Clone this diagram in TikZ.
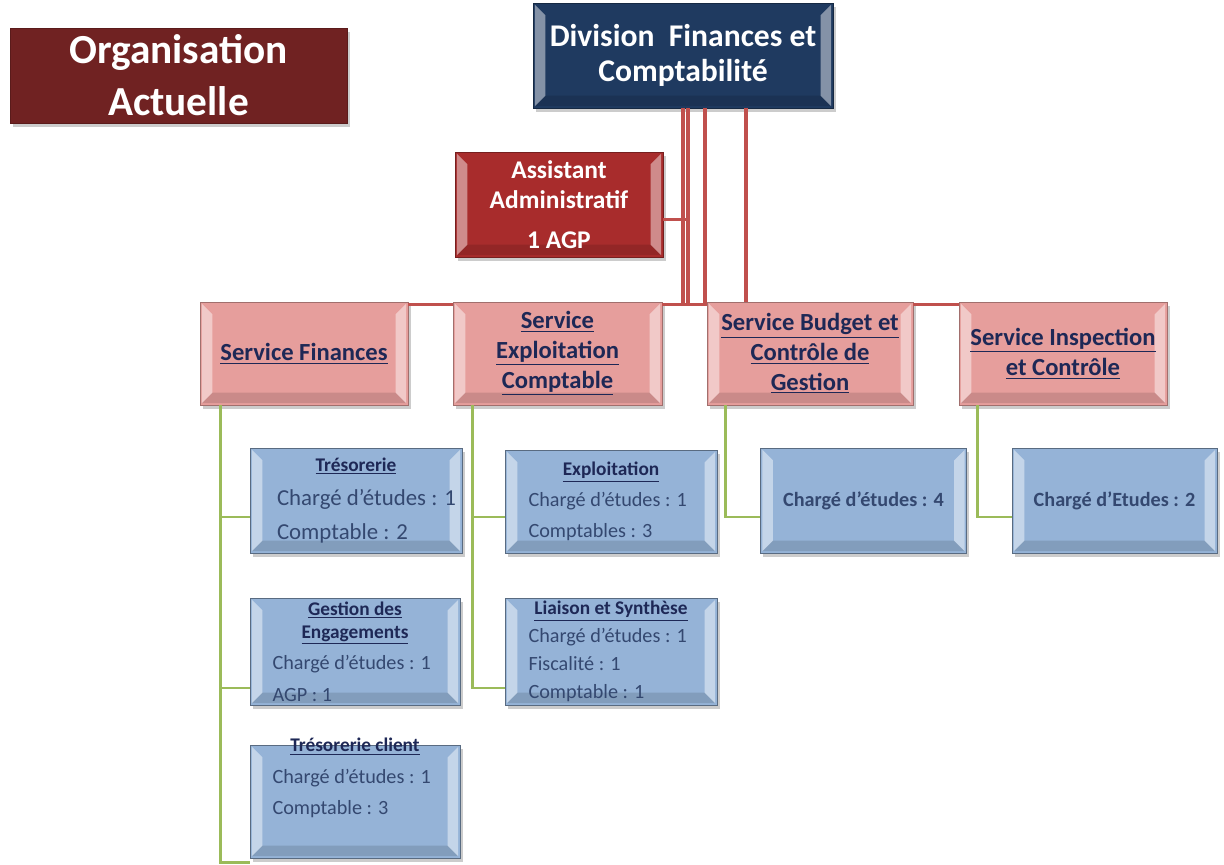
\documentclass[tikz,border=0pt]{standalone}
\usepackage{fontspec}
\setmainfont{Carlito}
\usepackage{tikz}
\usetikzlibrary{shadows}
\definecolor{titrerouge}{RGB}{112,34,34}
\definecolor{divbleu}{RGB}{31,58,96}
\definecolor{assrouge}{RGB}{168,44,44}
\definecolor{servrose}{RGB}{230,158,156}
\definecolor{cellbleu}{RGB}{149,179,215}
\definecolor{texbleu}{RGB}{52,72,112}
\definecolor{encre}{RGB}{30,40,86}
\definecolor{lienrouge}{RGB}{192,80,77}
\definecolor{lienvert}{RGB}{155,187,89}
\newcommand{\hd}[1]{{\centering\fontsize{11}{13}\selectfont\bfseries\color{encre}\underline{#1}\par}}

\begin{document}
\begin{tikzpicture}[x=0.02cm,y=-0.02cm]
\tikzstyle{bevel}=[path picture={
 \fill[white,opacity=.45] ([shift={(1pt,-1pt)}]path picture bounding box.north west) -- ([shift={(7pt,-7pt)}]path picture bounding box.north west) -- ([shift={(7pt,7pt)}]path picture bounding box.south west) -- ([shift={(1pt,1pt)}]path picture bounding box.south west) -- cycle;
 \fill[white,opacity=.45] ([shift={(-1pt,-1pt)}]path picture bounding box.north east) -- ([shift={(-7pt,-7pt)}]path picture bounding box.north east) -- ([shift={(-7pt,7pt)}]path picture bounding box.south east) -- ([shift={(-1pt,1pt)}]path picture bounding box.south east) -- cycle;
 \fill[black,opacity=.12] ([shift={(1pt,1pt)}]path picture bounding box.south west) -- ([shift={(7pt,7pt)}]path picture bounding box.south west) -- ([shift={(-7pt,7pt)}]path picture bounding box.south east) -- ([shift={(-1pt,1pt)}]path picture bounding box.south east) -- cycle;
}]
\tikzstyle{ombre}=[rectangle,drop shadow={shadow xshift=1.5pt,shadow yshift=-2.5pt,opacity=.4}]
\tikzstyle{boite}=[ombre,bevel,inner sep=2pt]
\tikzstyle{titrebox}=[ombre,fill=titrerouge,draw=titrerouge!80!black,text=white,font=\fontsize{23.5}{29.5}\selectfont\bfseries,align=center]
\tikzstyle{divbox}=[boite,fill=divbleu,draw=divbleu!70!black,text=white,font=\fontsize{18}{20}\selectfont\bfseries,align=center]
\tikzstyle{assbox}=[boite,fill=assrouge,draw=assrouge!70!black,text=white,font=\fontsize{14.5}{17}\selectfont\bfseries,align=center]
\tikzstyle{serv}=[boite,fill=servrose,draw=servrose!70!black,text=encre,font=\fontsize{14}{17}\selectfont\bfseries,align=center,minimum height=2.06cm]
\tikzstyle{cellbase}=[boite,fill=cellbleu,draw=cellbleu!60!black,text=texbleu]
\tikzstyle{cell}=[cellbase,text width=3.3cm,inner xsep=0.45cm,inner ysep=1pt,align=flush left,font=\fontsize{11.5}{18}\selectfont]
\tikzstyle{cellc}=[cellbase,align=center,font=\fontsize{11.5}{14}\selectfont\bfseries,minimum width=4.12cm,minimum height=2.1cm]
\tikzstyle{rouge}=[draw=lienrouge,line width=1.8pt]
\tikzstyle{vert}=[draw=lienvert,line width=1.6pt]

\useasboundingbox (0,0) rectangle (1224,865);

\node[titrebox,minimum width=6.74cm,minimum height=1.9cm] (titre) at (178.5,75.5) {Organisation\\Actuelle};
\node[divbox,minimum width=6cm,minimum height=2.1cm] (div) at (683,55.5) {Division~ Finances et\\Comptabilité};
\node[assbox,minimum width=4.16cm,minimum height=2.1cm] (asst) at (559,204.5) {Assistant\\Administratif\\[6pt]1 AGP};

\node[serv,minimum width=4.16cm] (sf) at (304,353.5) {\underline{Service Finances}};
\node[serv,minimum width=4.18cm] (sec) at (557.5,353.5) {\underline{Service}\\\underline{Exploitation}\\\underline{Comptable}};
\node[serv,minimum width=4.12cm] (sbc) at (810,353.5) {\underline{Service Budget et}\\\underline{Contrôle de}\\\underline{Gestion}};
\node[serv,minimum width=4.16cm] (sic) at (1063,353.5) {\underline{Service Inspection}\\\underline{et Contrôle}};

\node[cell,minimum width=4.24cm,minimum height=2.1cm,text width=3.64cm,inner xsep=0.3cm,font=\fontsize{13}{19.5}\selectfont] (tres) at (356,500.5) {\hd{Trésorerie}\mbox{\hspace{0.24cm}Chargé d’études : 1}\\\mbox{\hspace{0.24cm}Comptable : 2}};
\node[cell,minimum width=4.2cm,minimum height=2.14cm] (ge) at (355,651.5) {\hd{Gestion des}\hd{Engagements}Chargé d’études : 1\\AGP : 1};
\node[cell,minimum width=4.2cm,minimum height=2.26cm,text height=2pt,text depth=59pt] (tc) at (355,801.5) {\hd{Trésorerie client}Chargé d’études : 1\\Comptable : 3};
\node[cell,minimum width=4.24cm,minimum height=2.06cm,font=\fontsize{11.5}{17.5}\selectfont] (expl) at (611,501.5) {\hd{Exploitation}Chargé d’études : 1\\Comptables : 3};
\node[cell,minimum width=4.24cm,minimum height=2.14cm,font=\fontsize{11.5}{16}\selectfont] (ls) at (611,651.5) {\hd{Liaison et Synthèse}Chargé d’études : 1\\Fiscalité : 1\\Comptable : 1};
\node[cellc] (cb) at (863.5,500.5) {Chargé d’études : 4};
\node[cellc,minimum width=4.1cm] (ci) at (1114.5,500.5) {Chargé d’Etudes : 2};

\coordinate (bus) at (683,305);
\draw[rouge] ([yshift=-0.06cm]sf.north east) -- ([yshift=-0.06cm]sec.north west);
\draw[rouge] ([yshift=-0.06cm]sec.north east) -- ([yshift=-0.06cm]sbc.north west);
\draw[rouge] ([yshift=-0.06cm]sbc.north east) -- ([yshift=-0.06cm]sic.north west);
\draw[rouge] (div.south) -- (div.south |- bus);
\draw[rouge] ([yshift=-0.3cm]asst.east) -| ([xshift=0.1cm]div.south);
\draw[rouge] ([xshift=0.1cm]div.south) -- ([xshift=0.1cm]div.south |- bus);
\draw[rouge] ([xshift=0.44cm]div.south) -- ([xshift=0.44cm]div.south |- bus);
\draw[rouge] ([xshift=1.26cm]div.south) -- ([xshift=1.26cm]div.south |- sbc.north);

\draw[vert] ([xshift=0.42cm]sf.south west) |- ([yshift=-0.33cm]tres.west);
\draw[vert] ([xshift=0.42cm]sf.south west) |- ([yshift=-0.73cm]ge.west);
\draw[vert] ([xshift=0.42cm]sf.south west) |- ([yshift=-0.08cm]tc.south west);
\draw[vert] ([xshift=0.4cm]sec.south west) |- ([yshift=-0.31cm]expl.west);
\draw[vert] ([xshift=0.4cm]sec.south west) |- ([yshift=-0.73cm]ls.west);
\draw[vert] ([xshift=0.38cm]sbc.south west) |- ([yshift=-0.33cm]cb.west);
\draw[vert] ([xshift=0.38cm]sic.south west) |- ([yshift=-0.33cm]ci.west);
\end{tikzpicture}
\end{document}
